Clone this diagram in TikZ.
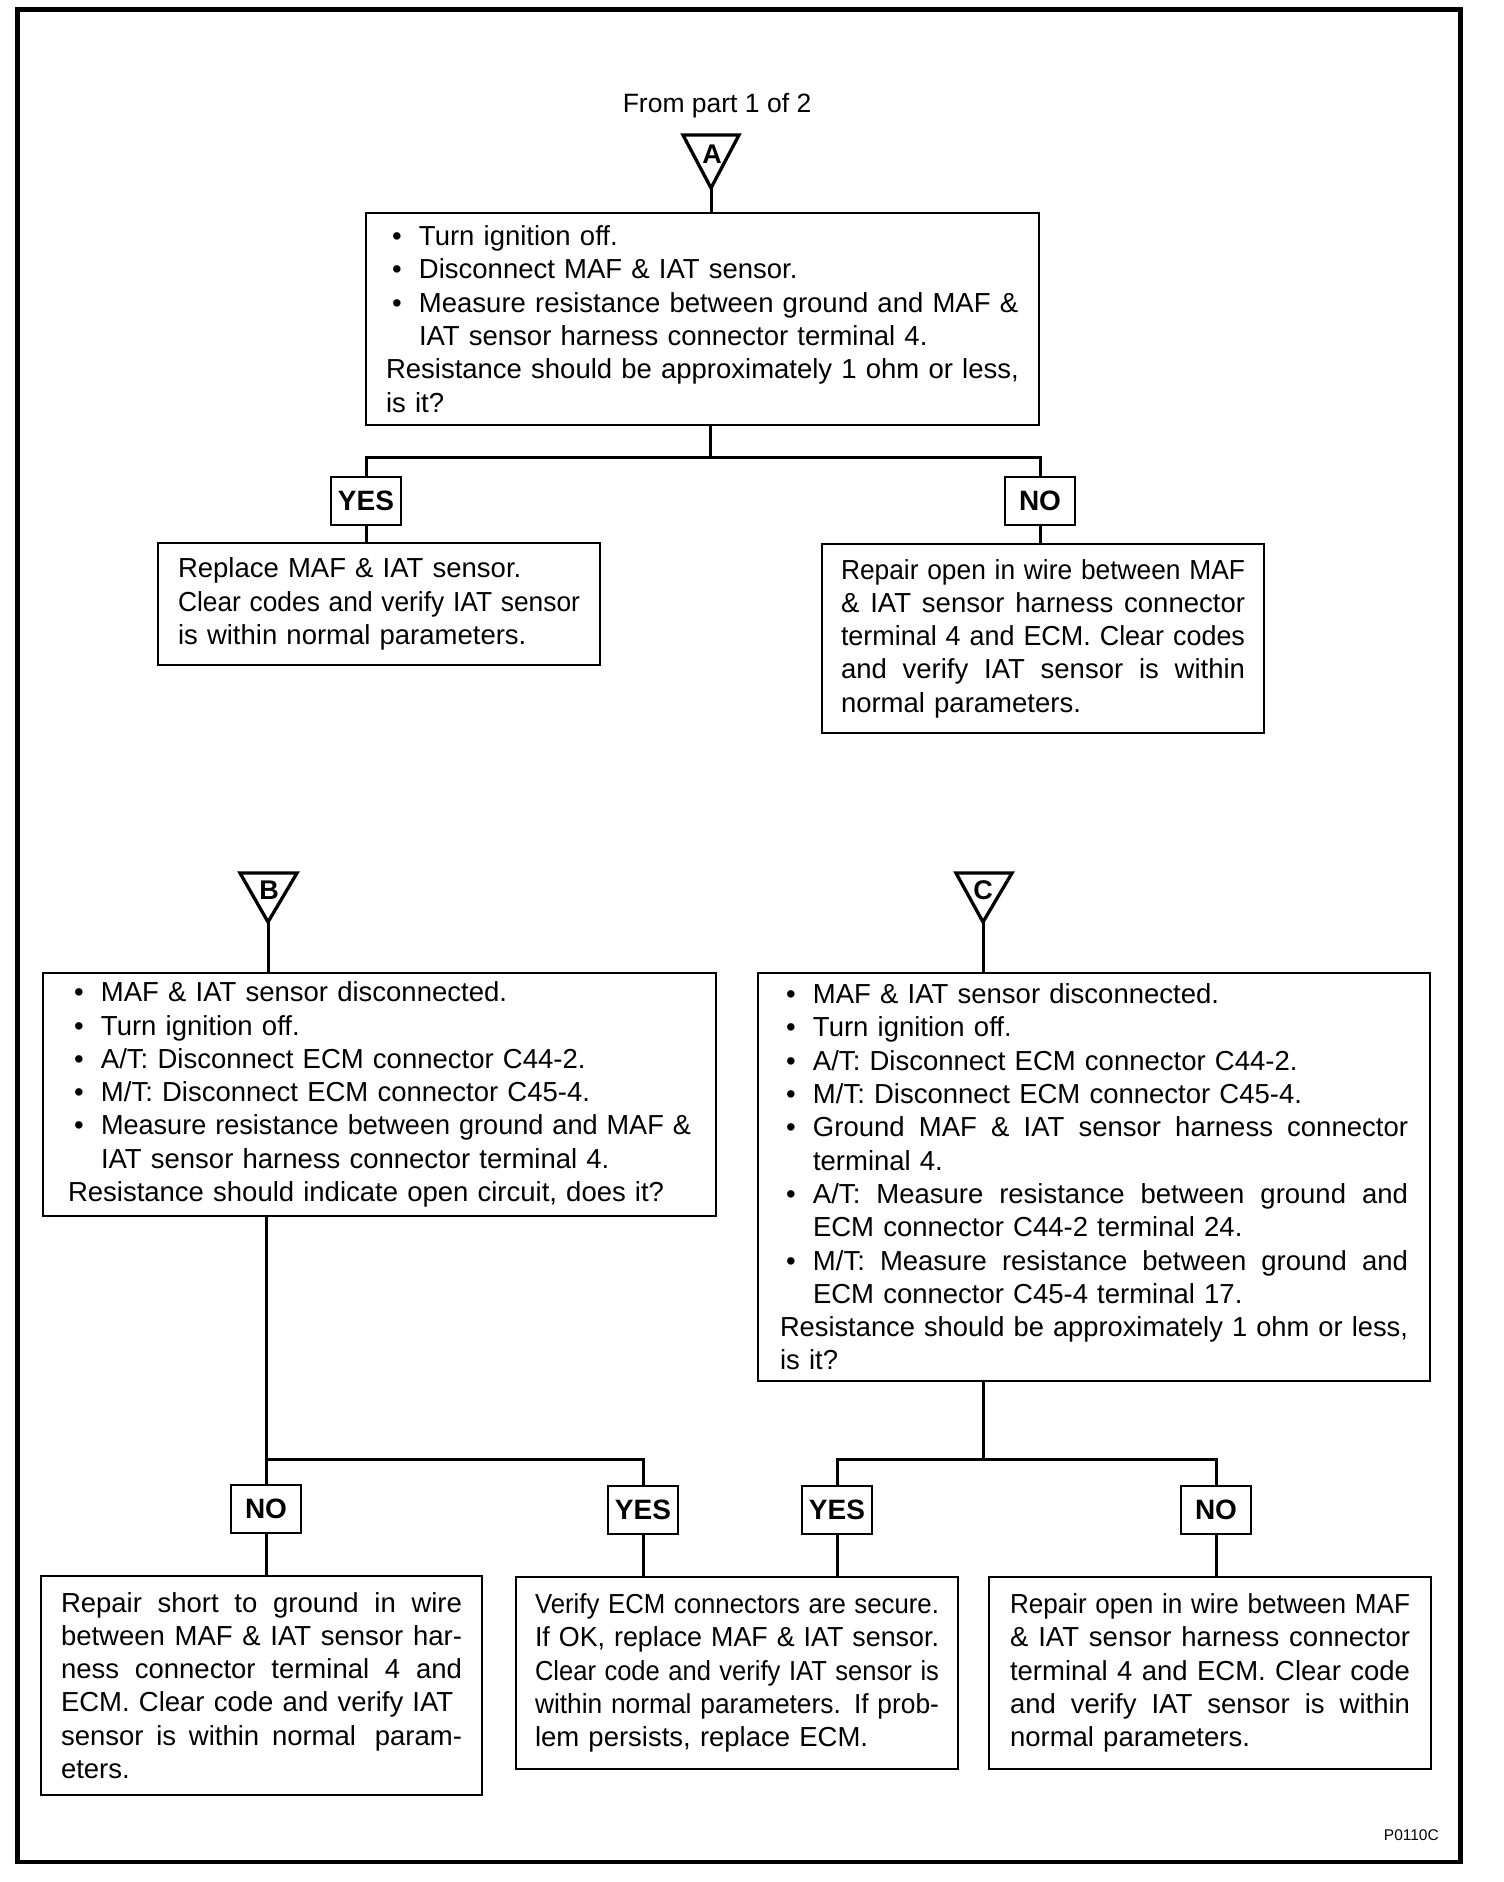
\documentclass[tikz,border=0pt]{standalone}
\usepackage{fontspec}
\setmainfont{Liberation Sans}
\usepackage{graphicx}
\setlength\parindent{0pt}
\newlength\fw
\newlength\bind
\setlength\bind{33pt}
% #1 = s (justified) or l (ragged); #2 = text
\newcommand\fitbox[2]{\setbox0\hbox{#2}\ifdim\wd0>\fw\relax\resizebox{\fw}{\height}{#2}\else\if s#1\hbox to\fw{\spaceskip=\fontdimen2\font plus 1fil\relax\xspaceskip=\spaceskip #2}\else\hbox to\fw{#2\hfil}\fi\fi}
\newcommand\LnR[1]{\setlength\fw{\linewidth}\leavevmode\fitbox{l}{#1}\par}
\newcommand\LnJ[1]{\setlength\fw{\linewidth}\leavevmode\fitbox{s}{#1}\par}
\newcommand\BuR[1]{\setlength\fw{\dimexpr\linewidth-\bind\relax}\leavevmode\hbox to\bind{\hspace{6pt}\textbullet\hfil}\fitbox{l}{#1}\par}
\newcommand\BuJ[1]{\setlength\fw{\dimexpr\linewidth-\bind\relax}\leavevmode\hbox to\bind{\hspace{6pt}\textbullet\hfil}\fitbox{s}{#1}\par}
\newcommand\InR[1]{\setlength\fw{\dimexpr\linewidth-\bind\relax}\leavevmode\hbox to\bind{}\fitbox{l}{#1}\par}
\tikzset{
  box/.style={draw, line width=2.8pt, inner ysep=0pt, font=\fontsize{27.5}{33.3}\selectfont},
  bx/.style n args={4}{minimum width=#1, minimum height=#2, inner xsep=#3, text width=#4},
  lbl/.style={draw, line width=2.8pt, minimum width=70pt, minimum height=48pt, inner sep=0pt, font=\fontsize{28}{33}\selectfont\bfseries},
  conn/.style={line width=3pt},
  tri/.style={line width=3.3pt, line join=miter},
  trilbl/.style={inner sep=0pt, font=\fontsize{27}{27}\selectfont\bfseries},
}
\begin{document}
\begin{tikzpicture}[x=1pt,y=-1pt]
\useasboundingbox (0,0) rectangle (1504,1882);
\fill[white] (0,0) rectangle (1504,1882);
\draw[line width=4.5pt] (17.5,9.5) rectangle (1460.5,1862);

\node[anchor=base, inner sep=0pt, font=\fontsize{26.5}{30}\selectfont] (from) at (717,112) {From part 1 of 2};

% connector triangles
\coordinate (Aap) at (711,188);
\draw[tri] (683,135) -- (739,135) -- (Aap) -- cycle;
\node[trilbl] (Alab) at (712,154) {A};
\coordinate (Bap) at (268,922);
\draw[tri] (240,873) -- (297,873) -- (Bap) -- cycle;
\node[trilbl] (Blab) at (269,890) {B};
\coordinate (Cap) at (983,922);
\draw[tri] (956,873) -- (1012,873) -- (Cap) -- cycle;
\node[trilbl] (Clab) at (983,890) {C};

% top box
\node[box, bx={673pt}{212pt}{20pt}{633pt}] (boxA) at (702.5,319) {%
\BuR{Turn ignition off.}
\BuR{Disconnect MAF \& IAT sensor.}
\BuR{Measure resistance between ground and MAF \&}
\InR{IAT sensor harness connector terminal 4.}
\LnR{Resistance should be approximately 1 ohm or less,}
\LnR{is it?}};

\node[lbl] (yesA) at (366,501) {YES};
\node[lbl] (noA) at (1040,501) {NO};

\node[box, bx={442pt}{122pt}{20pt}{402pt}] (boxR1) at (379,604) {%
\LnR{Replace MAF \& IAT sensor.}
\LnR{Clear codes and verify IAT sensor}
\LnR{is within normal parameters.}};

\node[box, bx={442pt}{189pt}{19pt}{404pt}] (boxN1) at (1043,638.5) {%
\LnJ{Repair open in wire between MAF}
\LnJ{\& IAT sensor harness connector}
\LnJ{terminal 4 and ECM. Clear codes}
\LnJ{and verify IAT sensor is within}
\LnR{normal parameters.}};

% B box
\node[box, bx={673pt}{243pt}{25pt}{623pt}] (boxB) at (379.5,1094.5) {%
\BuR{MAF \& IAT sensor disconnected.}
\BuR{Turn ignition off.}
\BuR{A/T: Disconnect ECM connector C44-2.}
\BuR{M/T: Disconnect ECM connector C45-4.}
\BuR{Measure resistance between ground and MAF \&}
\InR{IAT sensor harness connector terminal 4.}
\LnR{Resistance should indicate open circuit, does it?}};

% C box
\node[box, bx={672pt}{408pt}{22pt}{628pt}] (boxC) at (1094,1177) {%
\BuR{MAF \& IAT sensor disconnected.}
\BuR{Turn ignition off.}
\BuR{A/T: Disconnect ECM connector C44-2.}
\BuR{M/T: Disconnect ECM connector C45-4.}
\BuJ{Ground MAF \& IAT sensor harness connector}
\InR{terminal 4.}
\BuJ{A/T: Measure resistance between ground and}
\InR{ECM connector C44-2 terminal 24.}
\BuJ{M/T: Measure resistance between ground and}
\InR{ECM connector C45-4 terminal 17.}
\LnR{Resistance should be approximately 1 ohm or less,}
\LnR{is it?}};

\node[lbl] (noB) at (266,1509) {NO};
\node[lbl] (yesB) at (643,1510) {YES};
\node[lbl] (yesC) at (837,1510) {YES};
\node[lbl] (noC) at (1216,1510) {NO};

\node[box, bx={441pt}{219pt}{20pt}{401pt}] (boxL) at (261.5,1685.5) {%
\LnJ{Repair short to ground in wire}
\LnJ{between MAF \& IAT sensor har-}
\LnJ{ness connector terminal 4 and}
\LnR{ECM. Clear code and verify IAT}
\LnJ{sensor is within normal\hspace{6pt} param-}
\LnR{eters.}};

\node[box, bx={442pt}{192pt}{19pt}{404pt}] (boxM) at (737,1673) {%
\LnJ{Verify ECM connectors are secure.}
\LnJ{If OK, replace MAF \& IAT sensor.}
\LnJ{Clear code and verify IAT sensor is}
\LnJ{within normal parameters. If prob-}
\LnR{lem persists, replace ECM.}};

\node[box, bx={442pt}{192pt}{21pt}{400pt}] (boxRt) at (1210,1673) {%
\LnJ{Repair open in wire between MAF}
\LnJ{\& IAT sensor harness connector}
\LnJ{terminal 4 and ECM. Clear code}
\LnJ{and verify IAT sensor is within}
\LnR{normal parameters.}};

\node[anchor=base east, inner sep=0pt, font=\fontsize{15.5}{16}\selectfont] (code) at (1439,1840) {P0110C};

% junctions
\coordinate (jA) at (710,457);
\coordinate (jB) at (266,1459);
\coordinate (jC) at (983,1459);

% connectors
\draw[conn] (Aap) -- (Aap |- boxA.north);
\draw[conn] (boxA.south -| jA) -- (jA);
\draw[conn] (yesA.north) |- (jA) -| (noA.north);
\draw[conn] (yesA.south) -- (yesA.south |- boxR1.north);
\draw[conn] (noA.south) -- (noA.south |- boxN1.north);

\draw[conn] (Bap) -- (Bap |- boxB.north);
\draw[conn] (boxB.south -| jB) -- (noB.north);
\draw[conn] (jB) -| (yesB.north);
\draw[conn] (noB.south) -- (noB.south |- boxL.north);
\draw[conn] (yesB.south) -- (yesB.south |- boxM.north);

\draw[conn] (Cap) -- (Cap |- boxC.north);
\draw[conn] (boxC.south -| jC) -- (jC);
\draw[conn] (yesC.north) |- (jC) -| (noC.north);
\draw[conn] (yesC.south) -- (yesC.south |- boxM.north);
\draw[conn] (noC.south) -- (noC.south |- boxRt.north);
\end{tikzpicture}
\end{document}
